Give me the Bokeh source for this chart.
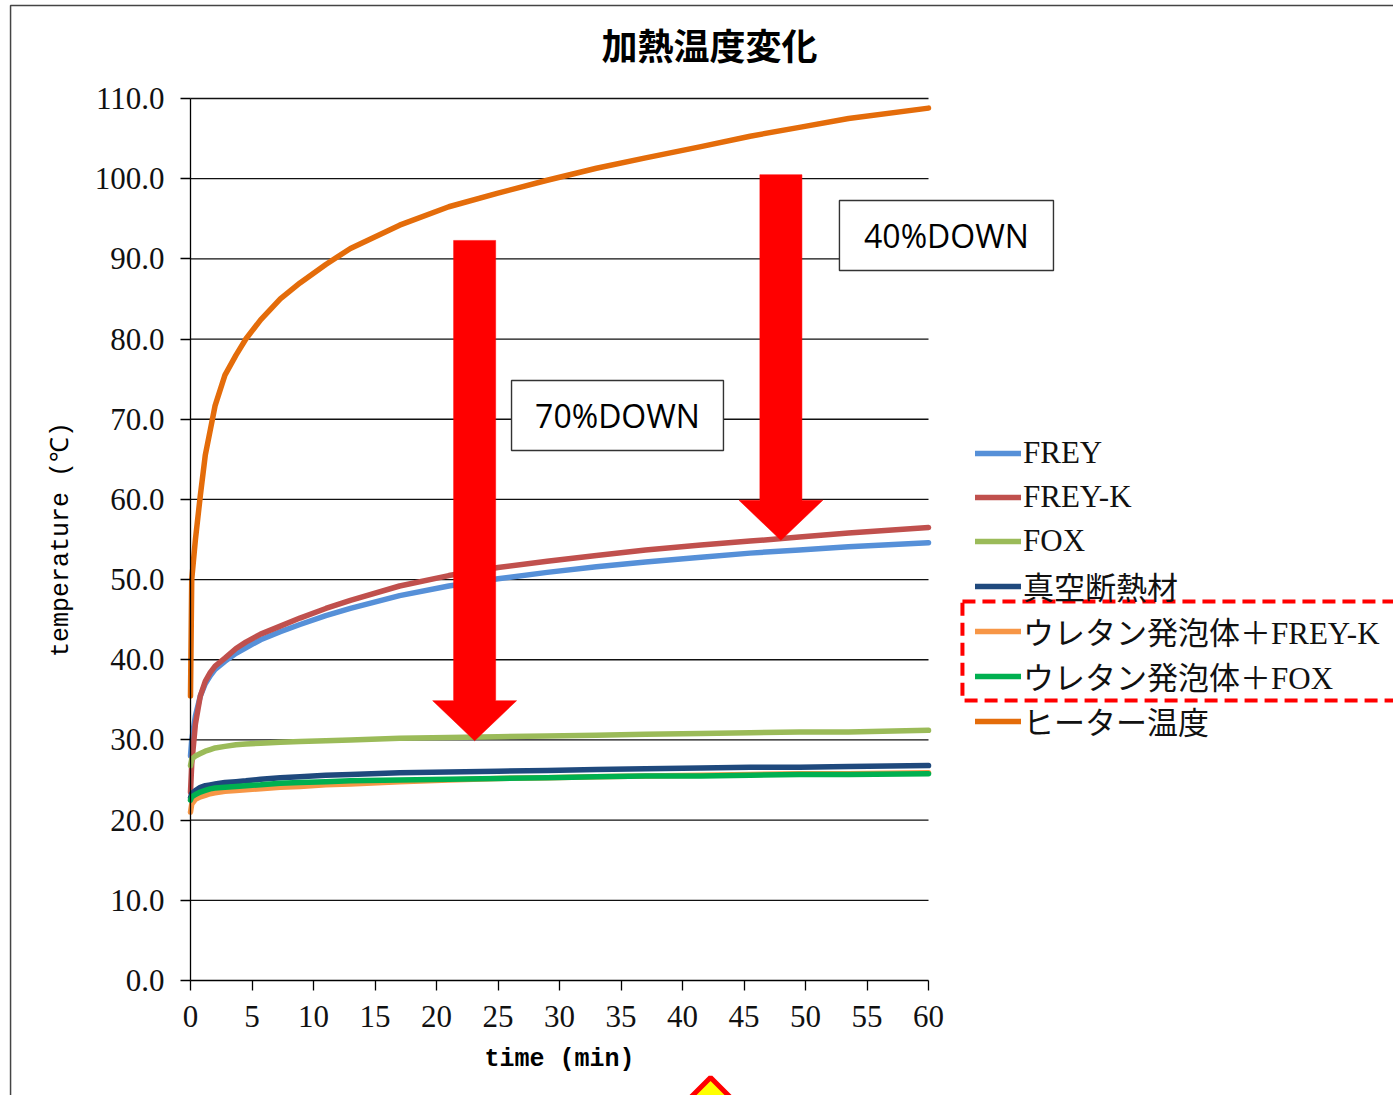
from bokeh.plotting import figure
from bokeh.models import (Range1d, FixedTicker, PrintfTickFormatter, Legend, LegendItem,
                          Label, PolyAnnotation)
from bokeh.embed import file_html
from bokeh.resources import INLINE

# Heating test: temperature (deg C) against elapsed time (min)
time_min = [0, 0.1, 0.4, 0.8, 1.2, 1.6, 2.0, 2.8, 3.7, 4.5, 5.7, 7.3, 8.9, 11, 13,
            17, 21, 25, 29, 33, 37, 41.5, 45.5, 49.5, 53.5, 60]

frey = [28.0, 30.0, 33.0, 35.5, 37.0, 38.0, 38.8, 39.8, 40.8, 41.5, 42.5, 43.5, 44.4,
        45.5, 46.4, 48.0, 49.2, 50.1, 50.9, 51.6, 52.2, 52.8, 53.3, 53.7, 54.1, 54.6]
frey_k = [23.5, 27.0, 32.0, 35.5, 37.3, 38.4, 39.2, 40.2, 41.4, 42.2, 43.2, 44.2, 45.2,
          46.4, 47.4, 49.2, 50.5, 51.5, 52.3, 53.0, 53.7, 54.3, 54.8, 55.3, 55.8, 56.5]
fox = [26.8, 27.6, 28.0, 28.3, 28.6, 28.8, 29.0, 29.2, 29.4, 29.5, 29.6, 29.7, 29.8,
       29.9, 30.0, 30.2, 30.3, 30.4, 30.5, 30.6, 30.7, 30.8, 30.9, 31.0, 31.0, 31.2]
vacuum = [22.8, 23.3, 23.7, 24.1, 24.3, 24.4, 24.5, 24.7, 24.8, 24.9, 25.1, 25.3, 25.4,
          25.6, 25.7, 25.9, 26.0, 26.1, 26.2, 26.3, 26.4, 26.5, 26.6, 26.6, 26.7, 26.8]
urethane_frey_k = [21.0, 22.0, 22.6, 22.9, 23.1, 23.3, 23.4, 23.6, 23.7, 23.8, 23.9, 24.1,
                   24.2, 24.4, 24.5, 24.8, 25.0, 25.2, 25.3, 25.4, 25.5, 25.6, 25.7, 25.8,
                   25.8, 25.9]
urethane_fox = [22.5, 22.9, 23.2, 23.5, 23.7, 23.9, 24.0, 24.1, 24.2, 24.3, 24.4, 24.6,
                24.7, 24.8, 24.9, 25.0, 25.1, 25.2, 25.3, 25.4, 25.5, 25.5, 25.6, 25.7,
                25.7, 25.8]
heater = [35.5, 50.0, 55.0, 60.5, 65.5, 68.6, 71.7, 75.5, 78.0, 80.0, 82.4, 85.0, 87.0,
          89.3, 91.3, 94.2, 96.5, 98.2, 99.8, 101.3, 102.6, 104.0, 105.3, 106.4, 107.5, 108.8]

series_names = ["FREY", "FREY-K", "FOX", "真空断熱材",
                "ウレタン発泡体＋FREY-K", "ウレタン発泡体＋FOX", "ヒーター温度"]
series_values = [frey, frey_k, fox, vacuum, urethane_frey_k, urethane_fox, heater]
series_colors = ["#5690D8", "#C0504D", "#9BBB59", "#1F497D", "#F79646", "#00B050", "#E46C0A"]

x_ticks = list(range(0, 61, 5))
y_ticks = list(range(0, 111, 10))

title_text = "加熱温度変化"
x_title = "time (min)"
y_title = "temperature (℃)"

SERIF = "Liberation Serif"
LEGEND_FONT = "'Liberation Serif', 'Noto Sans CJK JP'"

W, H = 1393, 1095
# plot area spans 0..60 min and 0..110 deg C; the surrounding canvas room is part of
# the frame so that legend, call-outs and title can sit anywhere on the page
X0_PX, X1_PX, Y0_PX, Y1_PX = 190, 928, 980, 98
sx = (X1_PX - X0_PX) / 60.0
sy = (Y0_PX - Y1_PX) / 110.0

p = figure(width=W, height=H, output_backend="svg", toolbar_location=None,
           x_range=Range1d(-X0_PX / sx, (W - X0_PX) / sx),
           y_range=Range1d(-(H - Y0_PX) / sy, Y0_PX / sy),
           min_border_left=0, min_border_right=0, min_border_top=0, min_border_bottom=0)
p.outline_line_color = None
p.background_fill_color = "white"
p.border_fill_color = "white"

# axes, pinned at the data origin
p.xaxis.fixed_location = 0
p.yaxis.fixed_location = 0
p.xaxis.bounds = (0, 60)
p.yaxis.bounds = (0, 110)
p.xaxis.ticker = FixedTicker(ticks=x_ticks)
p.yaxis.ticker = FixedTicker(ticks=y_ticks)
p.yaxis.formatter = PrintfTickFormatter(format="%.1f")
for ax in (p.xaxis, p.yaxis):
    ax.axis_line_color = "black"
    ax.axis_line_width = 1.3
    ax.major_tick_line_color = "black"
    ax.major_tick_line_width = 1.3
    ax.major_tick_in = 0
    ax.major_tick_out = 10
    ax.minor_tick_line_color = None
    ax.major_label_text_font = SERIF
    ax.major_label_text_font_size = "31px"
    ax.major_label_text_color = "#111111"
p.xaxis.major_label_standoff = 15
p.yaxis.major_label_standoff = 16
p.xaxis.axis_label = x_title
p.xaxis.axis_label_text_font = "Liberation Mono"
p.xaxis.axis_label_text_font_size = "25px"
p.xaxis.axis_label_text_font_style = "bold"
p.xaxis.axis_label_text_color = "black"
p.xaxis.axis_label_standoff = 15
p.yaxis.axis_label = y_title
p.yaxis.axis_label_text_font = "Liberation Mono"
p.yaxis.axis_label_text_font_size = "25px"
p.yaxis.axis_label_text_font_style = "normal"
p.yaxis.axis_label_text_color = "black"
p.yaxis.axis_label_standoff = 16

# horizontal grid limited to the plot area
p.xgrid.grid_line_color = None
p.ygrid.grid_line_color = None
grid_levels = [t for t in y_ticks if t > 0]
p.segment(x0=[0] * len(grid_levels), x1=[60] * len(grid_levels),
          y0=grid_levels, y1=grid_levels, line_color="#111111", line_width=1.3)

# temperature curves
items = []
for name, vals, col in zip(series_names, series_values, series_colors):
    r = p.line(time_min, vals, line_color=col, line_width=5.5,
               line_join="round", line_cap="round")
    items.append(LegendItem(label=name, renderers=[r]))

# down arrows
def arrow(cx, top, head_base, tip, shaft_half, head_half):
    xs = [cx - shaft_half, cx + shaft_half, cx + shaft_half, cx + head_half,
          cx, cx - head_half, cx - shaft_half]
    ys = [top, top, head_base, head_base, tip, head_base, head_base]
    p.patch(xs, ys, fill_color="#FF0000", line_color="#FF0000", line_width=0.5)

arrow(23.1, 92.3, 34.9, 29.9, 1.71, 3.41)
arrow(48.0, 100.5, 59.9, 54.9, 1.71, 3.41)

# call-out boxes
def callout(x0, x1, y0, y1, text):
    p.add_layout(PolyAnnotation(xs=[x0, x1, x1, x0], ys=[y0, y0, y1, y1],
                                fill_color="white", fill_alpha=1.0,
                                line_color="#333333", line_alpha=1.0, line_width=1.4))
    p.add_layout(Label(x=(x0 + x1) / 2, y=(y0 + y1) / 2, text=text,
                       text_font="Open Sans", text_font_size="32px",
                       text_color="black", text_align="center",
                       text_baseline="middle"))

callout(26.1, 43.33, 66.1, 74.83, "70%DOWN")
callout(52.76, 70.16, 88.55, 97.28, "40%DOWN")

# legend
legend = Legend(items=items, location=(975, 352), orientation="vertical",
                padding=0, margin=0, spacing=0, glyph_width=46, glyph_height=44,
                label_height=44, label_standoff=2,
                label_text_font=LEGEND_FONT, label_text_font_size="31px",
                label_text_color="#111111",
                border_line_color=None, background_fill_alpha=0)
p.add_layout(legend)

# dashed highlight around the urethane foam entries
p.add_layout(PolyAnnotation(xs=[62.76, 100, 100, 62.76], ys=[47.27, 47.27, 34.92, 34.92],
                            fill_alpha=0, line_color="#FF0000", line_alpha=1.0,
                            line_width=4, line_dash="13 7"))

# title
p.add_layout(Label(x=42.2, y=116.8, text=title_text, text_font="Noto Sans CJK JP",
                   text_font_style="bold", text_font_size="36px", text_color="black",
                   text_align="center", text_baseline="middle"))

# chart area border
p.add_layout(PolyAnnotation(xs=[-14.63, 120, 120, -14.63], ys=[121.6, 121.6, -30, -30],
                            fill_alpha=0, line_color="#444444", line_alpha=1.0,
                            line_width=1.5))

# warning marker below the chart
p.add_layout(PolyAnnotation(xs=[42.28, 44.4, 42.28, 40.16], ys=[-12.1, -15.35, -18.6, -15.35],
                            fill_color="#FFFF00", fill_alpha=1.0,
                            line_color="#FF0000", line_alpha=1.0, line_width=5))

open("out.html", "w").write(file_html(p, INLINE))
